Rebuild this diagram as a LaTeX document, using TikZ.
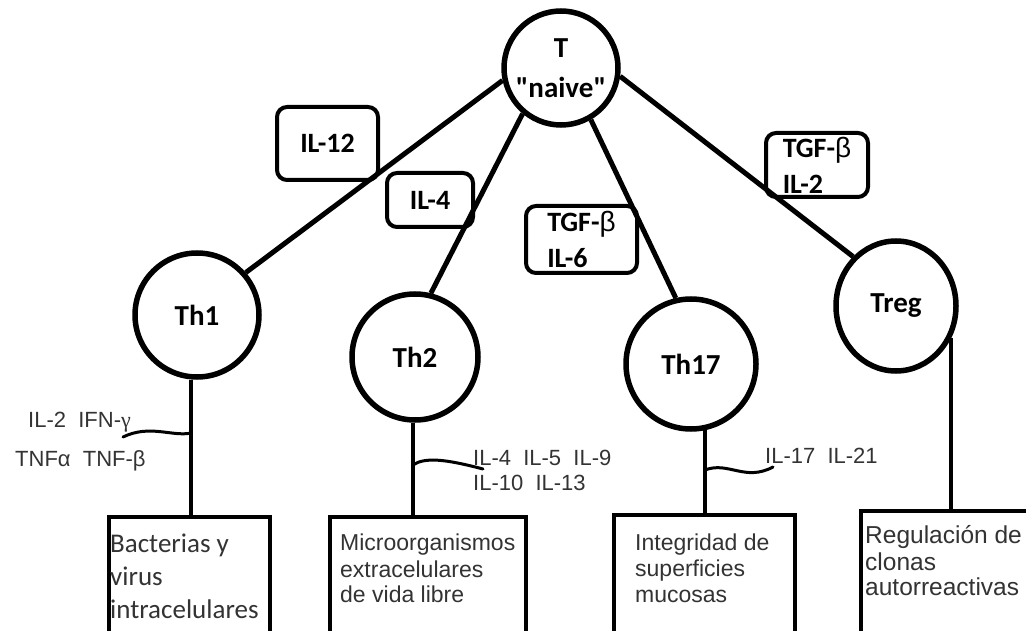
\documentclass[tikz,border=0pt]{standalone}
\usepackage{fontspec}
\setmainfont{Liberation Sans}
\newfontfamily\carlitofont{Carlito}
\newfontfamily\grkfont{Liberation Serif}
\usetikzlibrary{shapes.geometric}
\newcommand\labfont{\carlitofont\bfseries\fontsize{28}{36}\selectfont}
\newcommand\cytfont{\fontsize{22}{26}\selectfont}
\newcommand\thinbeta{{\fontspec{Liberation Sans}\mdseries β}}
\begin{document}
\begin{tikzpicture}[x=1pt,y=-1pt,
  cell/.style={circle, draw, line width=5.5pt, inner sep=0pt, align=center,
    font=\carlitofont\bfseries\fontsize{29}{40}\selectfont},
  conn/.style={line width=5pt},
  stem/.style={line width=4pt},
  wave/.style={line width=3pt, line cap=round},
  outbox/.style={draw, line width=4pt, inner sep=0pt},
  lab/.style={draw, line width=4pt, rounded corners=10pt, inner sep=0pt, align=left, font=\labfont},
  boxtext/.style={anchor=base west, inner sep=0pt, text=black!80, font=\fontsize{23}{26}\selectfont},
  cyt/.style={anchor=base west, inner sep=0pt, text=black!80, font=\cytfont}]
\clip (0,0) rectangle (1026,631);
\fill[white] (0,0) rectangle (1026,631);

% cells
\node[cell, minimum size=114] (T) at (561,68) {T\\"naive"};
\node[cell, minimum size=124] (Th1) at (197,315) {Th1};
\node[cell, minimum size=126] (Th2) at (415,357) {Th2};
\node[cell, minimum size=130] (Th17) at (691,364) {Th17};
\node[cell, ellipse, minimum width=120, minimum height=130] (Treg) at (896,306) {Treg};

% connectors
\draw[conn] (T.192) -- (Th1.41);
\draw[conn] (T.230) -- (Th2.76);
\draw[conn] (T.300) -- (Th17.103);
\draw[conn] (T.352) -- (Treg.131);

% cytokine label boxes
\node[lab, minimum width=101, minimum height=73] (l1) at (327.5,143.5) {IL-12};
\node[lab, minimum width=86, minimum height=54] (l2) at (430,200) {IL-4};
\node[lab, minimum width=111, minimum height=67] (l3) at (581.5,239.5) {TGF-\thinbeta\\IL-6};
\node[lab, minimum width=102, minimum height=64] (l4) at (817,165) {TGF-\thinbeta\\IL-2};

% outcome boxes
\node[outbox, minimum width=161, minimum height=140, anchor=north west] (b1) at (107,515) {};
\node[outbox, minimum width=196, minimum height=140, anchor=north west] (b2) at (328,515) {};
\node[outbox, minimum width=181, minimum height=140, anchor=north west] (b3) at (612,513) {};
\node[outbox, minimum width=185, minimum height=140, anchor=north west] (b4) at (859,509) {};

% stems
\draw[stem] (Th1.265) -- (Th1.265 |- b1.north);
\draw[stem] (Th2.268) -- (Th2.268 |- b2.north);
\draw[stem] (Th17.282) -- (Th17.282 |- b3.north);
\draw[stem] (Treg.-30) -- (Treg.-30 |- b4.north);

% squiggles
\coordinate (s1) at (Th1.265 |- 0,433);
\coordinate (e1) at (123,437);
\draw[wave] (s1) .. controls (172,437) and (150,424) .. (e1);
\coordinate (s2) at (Th2.268 |- 0,465);
\coordinate (e2) at (483,469);
\draw[wave] (s2) .. controls (425,457) and (445,459) .. (e2);
\coordinate (s3) at (Th17.282 |- 0,470);
\coordinate (e3) at (773,467);
\draw[wave] (s3) .. controls (728,461) and (745,482) .. (e3);

% cytokine texts
\node[cyt] (c1) at (28,427) {IL-2\ \ IFN-{\grkfont γ}};
\node[cyt] (c2) at (15,466) {TNFα\ \ TNF-β};
\node[cyt] (c3) at (473,465) {IL-4\ \ IL-5\ \ IL-9};
\node[cyt] (c4) at (473,490) {IL-10\ \ IL-13};
\node[cyt] (c5) at (765,463) {IL-17\ \ IL-21};

% box texts
\node[boxtext, font=\carlitofont\fontsize{27}{33}\selectfont] (t11) at (110,552) {Bacterias y};
\node[boxtext, font=\carlitofont\fontsize{27}{33}\selectfont] (t12) at (110,585) {virus};
\node[boxtext, font=\carlitofont\fontsize{27}{33}\selectfont] (t13) at (110,618) {intracelulares};
\node[boxtext] (t21) at (340,550) {Microorganismos};
\node[boxtext] (t22) at (340,577) {extracelulares};
\node[boxtext] (t23) at (340,602) {de vida libre};
\node[boxtext] (t31) at (635,550) {Integridad de};
\node[boxtext] (t32) at (635,576) {superficies};
\node[boxtext] (t33) at (635,602) {mucosas};
\node[boxtext, font=\fontsize{24.5}{27}\selectfont] (t41) at (865,543) {Regulación de};
\node[boxtext, font=\fontsize{24.5}{27}\selectfont] (t42) at (865,570) {clonas};
\node[boxtext, font=\fontsize{24.5}{27}\selectfont] (t43) at (865,595) {autorreactivas};
\end{tikzpicture}
\end{document}
